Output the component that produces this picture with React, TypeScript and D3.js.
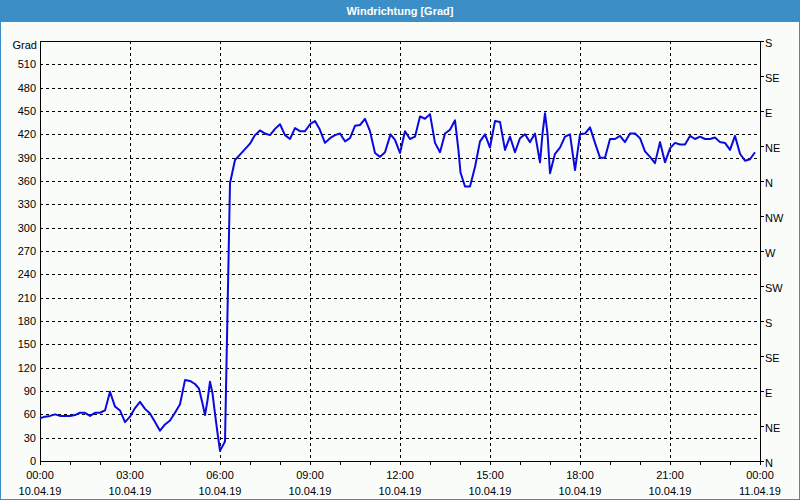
import React from "react";
import * as d3 from "d3";

// Time of day in minutes since 10.04.19 00:00
const minutes = [
  0, 10, 20, 30, 40, 50, 60, 70, 80, 90, 100, 110, 120, 130, 140, 150, 160, 170, 180, 190,
  200, 210, 220, 230, 240, 250, 260, 270, 280, 290, 300, 310, 318, 325, 330, 335, 340, 345, 350, 355,
  360, 370, 380, 390, 400, 410, 420, 430, 440, 450, 460, 470, 480, 490, 500, 510, 520, 530, 540, 550,
  559, 570, 580, 590, 600, 610, 620, 630, 640, 650, 660, 670, 680, 690, 701, 710, 720, 730, 740, 750,
  760, 770, 780, 790, 800, 810, 820, 830, 837, 841, 850, 860, 870, 880, 890, 900, 910, 920, 930, 940,
  950, 960, 970, 980, 990, 1000, 1005, 1010, 1015, 1020, 1030, 1040, 1050, 1060, 1070, 1080, 1090, 1100, 1110, 1120,
  1130, 1140, 1150, 1160, 1170, 1180, 1190, 1200, 1210, 1220, 1230, 1240, 1250, 1260, 1270, 1280, 1290, 1300, 1310, 1320,
  1330, 1340, 1350, 1360, 1370, 1380, 1390, 1400, 1410, 1420, 1430,
];

// Wind direction in degrees
const values = [
  55, 57, 58, 60, 58, 58, 58, 59, 62, 62, 58, 62, 62, 65, 89, 70, 65, 50, 57, 68,
  76, 67, 61, 50, 39, 47, 52, 62, 73, 104, 103, 99, 93, 74, 59, 78, 102, 87, 61, 36,
  13, 25, 357, 387, 394, 401, 408, 419, 425, 421, 419, 427, 433, 419, 414, 428, 424, 424, 433, 437,
  427, 409, 415, 419, 421, 411, 415, 431, 432, 440, 424, 396, 391, 397, 420, 413, 396, 424, 414, 417,
  443, 440, 446, 409, 397, 421, 426, 438, 399, 371, 353, 353, 378, 411, 420, 403, 437, 436, 400, 417,
  397, 415, 420, 410, 421, 384, 421, 447, 421, 370, 395, 403, 417, 420, 374, 420, 421, 429, 409, 390,
  390, 414, 414, 418, 410, 421, 421, 415, 398, 391, 383, 410, 384, 402, 409, 407, 407, 418, 414, 417,
  414, 414, 416, 410, 409, 400, 418, 395, 386, 388, 397,
];

const leftTicks = d3.range(0, 511, 30);
const rightTickValues = d3.range(0, 541, 45);
const rightTickLabels = ["N", "NE", "E", "SE", "S", "SW", "W", "NW", "N", "NE", "E", "SE", "S"];
const timeTicks = d3.range(0, 1441, 180);
const timeLabels = ["00:00", "03:00", "06:00", "09:00", "12:00", "15:00", "18:00", "21:00", "00:00"];
const dateLabels = ["10.04.19", "10.04.19", "10.04.19", "10.04.19", "10.04.19", "10.04.19", "10.04.19", "10.04.19", "11.04.19"];
const hourTicks = d3.range(0, 1441, 60);

const title = "Windrichtung [Grad]";
const unit = "Grad";

const W = 800;
const H = 500;
const L = 40;
const R = 760;
const T = 41;
const B = 461;
const BLUE = "#3c8ec6";
const FONT = "'Liberation Sans', Arial, sans-serif";

export default function App() {
  const x = d3.scaleLinear().domain([0, 1440]).range([L, R]);
  const y = d3.scaleLinear().domain([0, 540]).range([B, T]);
  const line = d3
    .line<number>()
    .x((_, i) => x(minutes[i]))
    .y((d) => y(d));
  const px = (v: number) => Math.round(v) + 0.5;

  return (
    <svg
      width={W}
      height={H}
      style={{ position: "fixed", left: 0, top: 0, display: "block" }}
      fontFamily={FONT}
      fontSize={11}
    >
      <rect x={0} y={0} width={W} height={H} fill="#fafcfa" />
      <rect x={0} y={0} width={W} height={22} fill={BLUE} />
      <rect x={0} y={0} width={1} height={H} fill={BLUE} />
      <rect x={W - 1} y={0} width={1} height={H} fill={BLUE} />
      <rect x={0} y={H - 1} width={W} height={1} fill={BLUE} />
      <text x={W / 2} y={11} dy="0.35em" textAnchor="middle" fill="#ffffff" fontWeight="bold">
        {title}
      </text>

      {/* horizontal grid */}
      {leftTicks
        .filter((v) => v > 0)
        .map((v) => (
          <line key={"hg" + v} x1={L} x2={R} y1={px(y(v))} y2={px(y(v))} stroke="#000" strokeDasharray="3,3" />
        ))}
      {/* vertical grid */}
      {timeTicks
        .filter((t) => t > 0 && t < 1440)
        .map((t) => (
          <line key={"vg" + t} x1={px(x(t))} x2={px(x(t))} y1={T} y2={B} stroke="#000" strokeDasharray="3,3" />
        ))}

      {/* frame */}
      <rect x={L + 0.5} y={T + 0.5} width={R - L} height={B - T} fill="none" stroke="#000" />

      {/* left labels */}
      <text x={37} y={y(540) + 4} dy="0.35em" textAnchor="end" fill="#000">
        {unit}
      </text>
      {leftTicks.map((v) => (
        <text key={"yl" + v} x={36} y={y(v)} dy="0.35em" textAnchor="end" fill="#000">
          {v}
        </text>
      ))}

      {/* right axis */}
      {rightTickValues.map((v, i) => (
        <g key={"rt" + v}>
          <line x1={R} x2={R + 4} y1={px(y(v))} y2={px(y(v))} stroke="#000" />
          <text x={765} y={y(v) + 2} dy="0.35em" textAnchor="start" fill="#000">
            {rightTickLabels[i]}
          </text>
        </g>
      ))}

      {/* bottom axis ticks */}
      {hourTicks.map((t) => (
        <line key={"ht" + t} x1={px(x(t))} x2={px(x(t))} y1={B} y2={B + 4} stroke="#000" />
      ))}
      {timeTicks.map((t, i) => (
        <g key={"tl" + t}>
          <text x={x(t)} y={475} dy="0.35em" textAnchor="middle" fill="#000">
            {timeLabels[i]}
          </text>
          <text x={x(t)} y={491} dy="0.35em" textAnchor="middle" fill="#000">
            {dateLabels[i]}
          </text>
        </g>
      ))}

      {/* data line */}
      <path d={line(values) || ""} fill="none" stroke="#0a0ae0" strokeWidth={2} strokeLinejoin="round" />
    </svg>
  );
}
